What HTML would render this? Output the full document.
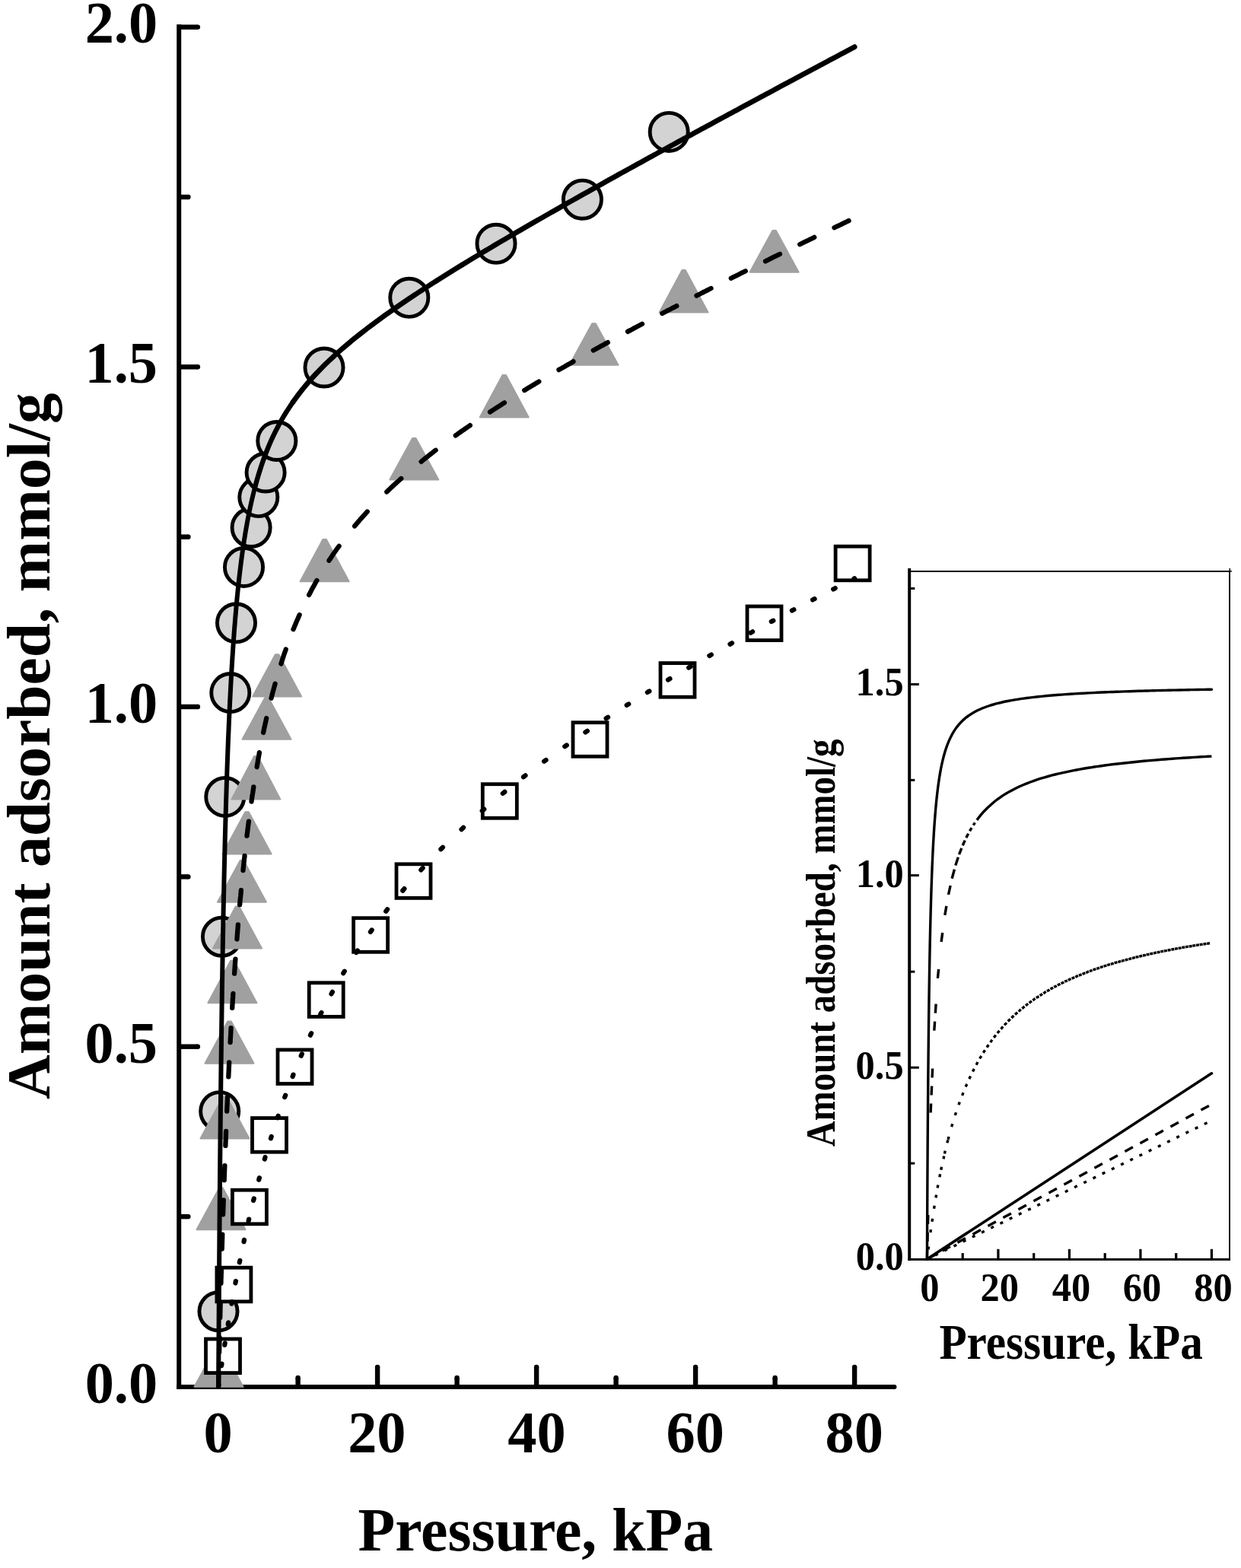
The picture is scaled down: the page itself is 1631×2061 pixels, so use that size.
<!DOCTYPE html>
<html><head><meta charset="utf-8"><title>Adsorption isotherms</title>
<style>html,body{margin:0;padding:0;background:#fff;}svg{display:block;}</style></head>
<body>
<svg width="1631" height="2061" viewBox="0 0 1631 2061">
<rect width="1631" height="2061" fill="#fff"/>
<g fill="#000">
<rect x="232.2" y="32.1" width="6" height="1793.8"/>
<rect x="232.2" y="1820.0" width="944" height="5.9" rx="0"/>
<circle cx="1175.5" cy="1822.95" r="2.95"/>
<rect x="236" y="1595.9" width="11.4" height="6.4"/><circle cx="247.4" cy="1599.1" r="3.2"/>
<rect x="236" y="1372.5" width="23.9" height="6.4"/><circle cx="259.9" cy="1375.7" r="3.2"/>
<rect x="236" y="1149.2" width="11.4" height="6.4"/><circle cx="247.4" cy="1152.4" r="3.2"/>
<rect x="236" y="925.8" width="23.9" height="6.4"/><circle cx="259.9" cy="929.0" r="3.2"/>
<rect x="236" y="702.5" width="11.4" height="6.4"/><circle cx="247.4" cy="705.7" r="3.2"/>
<rect x="236" y="479.1" width="23.9" height="6.4"/><circle cx="259.9" cy="482.3" r="3.2"/>
<rect x="236" y="255.8" width="11.4" height="6.4"/><circle cx="247.4" cy="259.0" r="3.2"/>
<rect x="236" y="32.4" width="23.9" height="6.4"/><circle cx="259.9" cy="35.6" r="3.2"/>
<rect x="388.4" y="1811.0" width="6.4" height="11.0"/><circle cx="391.6" cy="1811.0" r="3.2"/>
<rect x="492.9" y="1797.0" width="6.4" height="25.0"/><circle cx="496.1" cy="1797.0" r="3.2"/>
<rect x="597.4" y="1811.0" width="6.4" height="11.0"/><circle cx="600.6" cy="1811.0" r="3.2"/>
<rect x="701.9" y="1797.0" width="6.4" height="25.0"/><circle cx="705.1" cy="1797.0" r="3.2"/>
<rect x="806.4" y="1811.0" width="6.4" height="11.0"/><circle cx="809.6" cy="1811.0" r="3.2"/>
<rect x="910.9" y="1797.0" width="6.4" height="25.0"/><circle cx="914.1" cy="1797.0" r="3.2"/>
<rect x="1015.4" y="1811.0" width="6.4" height="11.0"/><circle cx="1018.6" cy="1811.0" r="3.2"/>
<rect x="1119.9" y="1797.0" width="6.4" height="25.0"/><circle cx="1123.1" cy="1797.0" r="3.2"/>
</g>
<g fill="#d3d3d3" stroke="#000" stroke-width="4.9">
<circle cx="287" cy="1723.7" r="25.05"/>
<circle cx="288.7" cy="1460.7" r="25.05"/>
<circle cx="291.5" cy="1231.2" r="25.05"/>
<circle cx="295.8" cy="1047.4" r="25.05"/>
<circle cx="302.8" cy="910.6" r="25.05"/>
<circle cx="310.5" cy="818.8" r="25.05"/>
<circle cx="320.5" cy="745.4" r="25.05"/>
<circle cx="330.1" cy="693.5" r="25.05"/>
<circle cx="339.8" cy="653.6" r="25.05"/>
<circle cx="349.1" cy="621" r="25.05"/>
<circle cx="363.8" cy="579.5" r="25.05"/>
<circle cx="426" cy="483" r="25.05"/>
<circle cx="537.8" cy="391.3" r="25.05"/>
<circle cx="652" cy="320.3" r="25.05"/>
<circle cx="765.4" cy="262.2" r="25.05"/>
<circle cx="879.2" cy="173.4" r="25.05"/>
</g>
<g fill="#a0a0a0" stroke="#a0a0a0" stroke-width="2.0" stroke-linejoin="round">
<polygon points="285.3,1768.0 289.7,1768.0 319.5,1822.8 255.5,1822.8"/>
<polygon points="288.3,1561.3 292.7,1561.3 322.5,1616.2 258.5,1616.2"/>
<polygon points="293.3,1441.6 297.7,1441.6 327.5,1496.6 263.5,1496.6"/>
<polygon points="299.3,1342.5 303.7,1342.5 333.5,1397.7 269.5,1397.7"/>
<polygon points="303.2,1262.8 307.6,1262.8 337.4,1318.2 273.4,1318.2"/>
<polygon points="309.8,1191.5 314.2,1191.5 344.0,1246.5 280.0,1246.5"/>
<polygon points="315.7,1131.0 320.1,1131.0 349.9,1185.7 285.9,1185.7"/>
<polygon points="322.4,1067.3 326.8,1067.3 356.6,1122.5 292.6,1122.5"/>
<polygon points="334.2,994.0 338.6,994.0 368.4,1050.6 304.4,1050.6"/>
<polygon points="348.3,917.0 352.7,917.0 382.5,971.7 318.5,971.7"/>
<polygon points="361.9,860.2 366.3,860.2 396.1,915.4 332.1,915.4"/>
<polygon points="424.4,709.0 428.8,709.0 458.6,764.2 394.6,764.2"/>
<polygon points="542.1,576.0 546.5,576.0 576.3,630.5 512.3,630.5"/>
<polygon points="660.5,493.0 664.9,493.0 694.7,548.5 630.7,548.5"/>
<polygon points="778.3,425.2 782.7,425.2 812.5,479.7 748.5,479.7"/>
<polygon points="896.4,355.1 900.8,355.1 930.6,410.6 866.6,410.6"/>
<polygon points="1015.4,303.0 1019.8,303.0 1049.6,357.7 985.6,357.7"/>
</g>
<g fill="#fff" stroke="#000" stroke-width="4.8">
<rect x="270.5" y="1760.0" width="45" height="44.6"/>
<rect x="284.9" y="1666.2" width="45" height="44.6"/>
<rect x="305.4" y="1564.2" width="45" height="44.6"/>
<rect x="331.5" y="1469.6" width="45" height="44.6"/>
<rect x="365.0" y="1379.9" width="45" height="44.6"/>
<rect x="406.2" y="1291.8" width="45" height="44.6"/>
<rect x="464.6" y="1206.7" width="45" height="44.6"/>
<rect x="521.0" y="1135.8" width="45" height="44.6"/>
<rect x="634.3" y="1030.7" width="45" height="44.6"/>
<rect x="753.0" y="949.7" width="45" height="44.6"/>
<rect x="868.0" y="871.6" width="45" height="44.6"/>
<rect x="982.0" y="797.0" width="45" height="44.6"/>
<rect x="1098.1" y="718.2" width="45" height="44.6"/>
</g>
<path d="M287.10,1822.60 C287.11,1821.27 287.13,1817.29 287.15,1814.63 C287.16,1811.98 287.18,1809.32 287.19,1806.67 C287.21,1804.01 287.22,1801.36 287.24,1798.70 C287.25,1796.04 287.27,1793.39 287.28,1790.73 C287.30,1788.08 287.31,1785.42 287.33,1782.77 C287.35,1780.11 287.36,1777.45 287.38,1774.80 C287.39,1772.14 287.41,1769.49 287.43,1766.83 C287.44,1764.18 287.46,1761.52 287.48,1758.87 C287.49,1756.21 287.51,1753.55 287.53,1750.90 C287.54,1748.24 287.56,1745.59 287.58,1742.93 C287.59,1740.28 287.61,1737.62 287.63,1734.96 C287.64,1732.31 287.66,1729.65 287.68,1727.00 C287.70,1724.34 287.71,1721.69 287.73,1719.03 C287.75,1716.38 287.77,1713.72 287.78,1711.06 C287.80,1708.41 287.82,1705.75 287.84,1703.10 C287.85,1700.44 287.87,1697.79 287.89,1695.13 C287.91,1692.48 287.93,1689.82 287.95,1687.16 C287.96,1684.51 287.98,1681.85 288.00,1679.20 C288.02,1676.54 288.04,1673.89 288.06,1671.23 C288.08,1668.58 288.10,1665.92 288.12,1663.26 C288.13,1660.61 288.15,1657.95 288.17,1655.30 C288.19,1652.64 288.21,1649.99 288.23,1647.33 C288.25,1644.67 288.27,1642.02 288.29,1639.36 C288.31,1636.71 288.33,1634.05 288.35,1631.40 C288.37,1628.74 288.39,1626.09 288.41,1623.43 C288.43,1620.77 288.45,1618.12 288.48,1615.46 C288.50,1612.81 288.52,1610.15 288.54,1607.50 C288.56,1604.84 288.58,1602.19 288.60,1599.53 C288.62,1596.87 288.65,1594.22 288.67,1591.56 C288.69,1588.91 288.71,1586.25 288.73,1583.60 C288.75,1580.94 288.78,1578.29 288.80,1575.63 C288.82,1572.97 288.84,1570.32 288.87,1567.66 C288.89,1565.01 288.91,1562.35 288.94,1559.70 C288.96,1557.04 288.98,1554.39 289.01,1551.73 C289.03,1549.07 289.05,1546.42 289.08,1543.76 C289.10,1541.11 289.12,1538.45 289.15,1535.80 C289.17,1533.14 289.20,1530.49 289.22,1527.83 C289.24,1525.17 289.27,1522.52 289.29,1519.86 C289.32,1517.21 289.34,1514.55 289.37,1511.90 C289.39,1509.24 289.42,1506.59 289.45,1503.93 C289.47,1501.27 289.50,1498.62 289.52,1495.96 C289.55,1493.31 289.57,1490.65 289.60,1488.00 C289.63,1485.34 289.65,1482.69 289.68,1480.03 C289.71,1477.37 289.73,1474.72 289.76,1472.06 C289.79,1469.41 289.82,1466.75 289.84,1464.10 C289.87,1461.44 289.90,1458.79 289.93,1456.13 C289.96,1453.48 289.98,1450.82 290.01,1448.16 C290.04,1445.51 290.07,1442.85 290.10,1440.20 C290.13,1437.54 290.16,1434.89 290.19,1432.23 C290.22,1429.58 290.25,1426.92 290.28,1424.26 C290.31,1421.61 290.34,1418.95 290.37,1416.30 C290.40,1413.64 290.43,1410.99 290.46,1408.33 C290.49,1405.68 290.52,1403.02 290.55,1400.37 C290.59,1397.71 290.62,1395.05 290.65,1392.40 C290.68,1389.74 290.71,1387.09 290.75,1384.43 C290.78,1381.78 290.81,1379.12 290.85,1376.47 C290.88,1373.81 290.91,1371.16 290.95,1368.50 C290.98,1365.84 291.02,1363.19 291.05,1360.53 C291.08,1357.88 291.12,1355.22 291.15,1352.57 C291.19,1349.91 291.22,1347.26 291.26,1344.60 C291.30,1341.95 291.33,1339.29 291.37,1336.63 C291.41,1333.98 291.44,1331.32 291.48,1328.67 C291.52,1326.01 291.55,1323.36 291.59,1320.70 C291.63,1318.05 291.67,1315.39 291.71,1312.74 C291.74,1310.08 291.78,1307.43 291.82,1304.77 C291.86,1302.11 291.90,1299.46 291.94,1296.80 C291.98,1294.15 292.02,1291.49 292.06,1288.84 C292.10,1286.18 292.14,1283.53 292.19,1280.87 C292.23,1278.22 292.27,1275.56 292.31,1272.91 C292.35,1270.25 292.40,1267.60 292.44,1264.94 C292.48,1262.28 292.53,1259.63 292.57,1256.97 C292.62,1254.32 292.66,1251.66 292.71,1249.01 C292.75,1246.35 292.80,1243.70 292.84,1241.04 C292.89,1238.39 292.93,1235.73 292.98,1233.08 C293.03,1230.42 293.08,1227.77 293.12,1225.11 C293.17,1222.46 293.22,1219.80 293.27,1217.15 C293.32,1214.49 293.37,1211.84 293.42,1209.18 C293.47,1206.52 293.52,1203.87 293.57,1201.21 C293.62,1198.56 293.67,1195.90 293.72,1193.25 C293.78,1190.59 293.83,1187.94 293.88,1185.28 C293.94,1182.63 293.99,1179.97 294.04,1177.32 C294.10,1174.66 294.15,1172.01 294.21,1169.35 C294.27,1166.70 294.32,1164.04 294.38,1161.39 C294.44,1158.73 294.49,1156.08 294.55,1153.42 C294.61,1150.77 294.67,1148.11 294.73,1145.46 C294.79,1142.80 294.85,1140.15 294.91,1137.49 C294.97,1134.84 295.03,1132.18 295.10,1129.53 C295.16,1126.87 295.22,1124.22 295.29,1121.56 C295.35,1118.91 295.42,1116.25 295.48,1113.60 C295.55,1110.94 295.62,1108.29 295.68,1105.63 C295.75,1102.98 295.82,1100.32 295.89,1097.67 C295.96,1095.02 296.03,1092.36 296.10,1089.71 C296.17,1087.05 296.24,1084.40 296.31,1081.74 C296.39,1079.09 296.46,1076.43 296.53,1073.78 C296.61,1071.12 296.68,1068.47 296.76,1065.81 C296.84,1063.16 296.91,1060.51 296.99,1057.85 C297.07,1055.20 297.15,1052.54 297.23,1049.89 C297.31,1047.23 297.40,1044.58 297.48,1041.92 C297.56,1039.27 297.65,1036.62 297.73,1033.96 C297.82,1031.31 297.90,1028.65 297.99,1026.00 C298.08,1023.34 298.17,1020.69 298.26,1018.04 C298.35,1015.38 298.44,1012.73 298.53,1010.07 C298.63,1007.42 298.72,1004.77 298.81,1002.11 C298.91,999.46 299.01,996.80 299.11,994.15 C299.20,991.50 299.30,988.84 299.41,986.19 C299.51,983.54 299.61,980.88 299.71,978.23 C299.82,975.57 299.93,972.92 300.03,970.27 C300.14,967.61 300.25,964.96 300.36,962.31 C300.47,959.65 300.59,957.00 300.70,954.35 C300.82,951.69 300.93,949.04 301.05,946.39 C301.17,943.73 301.29,941.08 301.41,938.43 C301.53,935.78 301.66,933.12 301.78,930.47 C301.91,927.82 302.04,925.17 302.17,922.51 C302.30,919.86 302.43,917.21 302.57,914.56 C302.71,911.90 302.84,909.25 302.98,906.60 C303.12,903.95 303.27,901.30 303.41,898.64 C303.56,895.99 303.70,893.34 303.85,890.69 C304.00,888.04 304.16,885.39 304.31,882.74 C304.47,880.09 304.63,877.43 304.79,874.78 C304.95,872.13 305.12,869.48 305.28,866.83 C305.45,864.18 305.62,861.53 305.80,858.88 C305.97,856.23 306.15,853.58 306.33,850.93 C306.51,848.28 306.70,845.63 306.89,842.98 C307.07,840.34 307.27,837.69 307.46,835.04 C307.66,832.39 307.86,829.74 308.06,827.09 C308.27,824.45 308.48,821.80 308.69,819.15 C308.90,816.51 309.12,813.86 309.34,811.21 C309.56,808.57 309.79,805.92 310.02,803.27 C310.25,800.63 310.49,797.98 310.73,795.34 C310.98,792.69 311.22,790.05 311.48,787.41 C311.73,784.76 311.99,782.12 312.25,779.48 C312.52,776.84 312.79,774.19 313.07,771.55 C313.35,768.91 313.63,766.27 313.92,763.63 C314.21,760.99 314.51,758.35 314.81,755.71 C315.12,753.08 315.43,750.44 315.75,747.80 C316.07,745.17 316.40,742.53 316.74,739.90 C317.07,737.26 317.42,734.63 317.77,732.00 C318.12,729.37 318.49,726.73 318.86,724.11 C319.23,721.48 319.61,718.85 320.01,716.22 C320.40,713.60 320.80,710.97 321.22,708.35 C321.63,705.72 322.05,703.10 322.49,700.48 C322.93,697.86 323.37,695.25 323.84,692.63 C324.30,690.01 324.77,687.40 325.26,684.79 C325.74,682.18 326.24,679.57 326.76,676.97 C327.28,674.36 327.81,671.76 328.35,669.16 C328.90,666.56 329.46,663.97 330.04,661.37 C330.61,658.78 331.21,656.19 331.82,653.61 C332.43,651.03 333.06,648.45 333.71,645.87 C334.36,643.30 335.39,639.45 335.72,638.16" fill="none" stroke="#000" stroke-width="6.0" stroke-linecap="round" stroke-linejoin="round"/>
<path d="M335.72,638.16 C336.06,636.95 337.05,633.30 337.74,630.88 C338.43,628.45 339.14,626.03 339.87,623.62 C340.60,621.21 341.35,618.81 342.13,616.41 C342.90,614.01 343.70,611.62 344.51,609.23 C345.33,606.85 346.17,604.47 347.04,602.11 C347.90,599.74 348.79,597.38 349.70,595.03 C350.62,592.69 351.55,590.35 352.52,588.02 C353.48,585.69 354.47,583.37 355.48,581.06 C356.50,578.76 357.54,576.46 358.61,574.18 C359.68,571.90 360.77,569.63 361.89,567.37 C363.02,565.12 364.17,562.87 365.34,560.65 C366.52,558.42 367.73,556.20 368.96,554.01 C370.19,551.81 371.45,549.63 372.74,547.46 C374.03,545.29 375.34,543.14 376.68,541.01 C378.02,538.88 379.39,536.76 380.79,534.66 C382.18,532.56 384.34,529.46 385.05,528.42" fill="none" stroke="#000" stroke-width="6.4" stroke-linecap="round" stroke-linejoin="round"/>
<path d="M385.05,528.42 C385.82,527.34 388.13,524.08 389.71,521.94 C391.29,519.80 392.90,517.68 394.54,515.58 C396.17,513.48 397.84,511.40 399.52,509.34 C401.21,507.28 402.92,505.25 404.65,503.23 C406.39,501.21 408.14,499.21 409.92,497.23 C411.70,495.25 413.50,493.29 415.32,491.34 C417.14,489.40 418.98,487.48 420.83,485.57 C422.69,483.67 424.57,481.78 426.46,479.91 C428.36,478.04 430.27,476.19 432.19,474.36 C434.12,472.52 436.06,470.70 438.02,468.90 C439.98,467.09 441.95,465.31 443.93,463.53 C445.92,461.76 447.92,460.00 449.93,458.26 C451.94,456.52 453.96,454.79 456.00,453.07 C458.03,451.36 460.08,449.65 462.13,447.96 C464.19,446.27 466.25,444.60 468.33,442.93 C470.40,441.26 472.49,439.61 474.58,437.97 C476.68,436.33 478.78,434.69 480.89,433.07 C483.00,431.45 485.12,429.84 487.24,428.24 C489.37,426.64 491.50,425.05 493.64,423.47 C495.78,421.88 497.93,420.31 500.08,418.75 C502.23,417.18 504.39,415.63 506.56,414.08 C508.72,412.53 510.89,410.99 513.07,409.46 C515.24,407.93 517.42,406.40 519.61,404.88 C521.80,403.37 523.99,401.85 526.18,400.35 C528.38,398.85 530.58,397.35 532.78,395.86 C534.99,394.37 537.19,392.88 539.41,391.40 C541.62,389.92 543.84,388.45 546.06,386.98 C548.28,385.52 550.50,384.05 552.73,382.60 C554.95,381.14 557.18,379.69 559.42,378.24 C561.65,376.79 563.89,375.35 566.13,373.91 C568.36,372.48 570.61,371.04 572.85,369.61 C575.10,368.18 577.35,366.76 579.60,365.34 C581.85,363.92 584.10,362.50 586.35,361.09 C588.61,359.68 590.87,358.27 593.13,356.87 C595.39,355.46 597.65,354.06 599.91,352.66 C602.18,351.26 604.45,349.87 606.71,348.48 C608.98,347.09 611.25,345.70 613.53,344.31 C615.80,342.93 618.07,341.55 620.35,340.17 C622.62,338.79 624.90,337.41 627.18,336.04 C629.46,334.66 631.74,333.29 634.02,331.93 C636.31,330.56 638.59,329.19 640.88,327.83 C643.16,326.47 645.45,325.11 647.74,323.75 C650.03,322.39 652.32,321.03 654.61,319.68 C656.90,318.33 659.19,316.98 661.49,315.63 C663.78,314.28 666.07,312.93 668.37,311.59 C670.67,310.24 672.96,308.90 675.26,307.56 C677.56,306.22 679.86,304.88 682.16,303.54 C684.46,302.20 686.76,300.87 689.07,299.53 C691.37,298.20 693.67,296.87 695.98,295.54 C698.28,294.21 700.59,292.88 702.90,291.55 C705.20,290.22 707.51,288.90 709.82,287.58 C712.13,286.25 714.44,284.93 716.75,283.61 C719.06,282.29 721.37,280.97 723.68,279.65 C725.99,278.33 728.31,277.02 730.62,275.70 C732.93,274.39 735.25,273.07 737.56,271.76 C739.88,270.45 742.19,269.13 744.51,267.82 C746.82,266.51 749.14,265.21 751.46,263.90 C753.78,262.59 756.10,261.28 758.41,259.98 C760.73,258.67 763.05,257.37 765.37,256.06 C767.69,254.76 770.01,253.46 772.34,252.16 C774.66,250.86 776.98,249.56 779.30,248.26 C781.62,246.96 783.95,245.66 786.27,244.36 C788.59,243.07 790.92,241.77 793.24,240.48 C795.57,239.18 797.89,237.89 800.22,236.59 C802.54,235.30 804.87,234.01 807.20,232.71 C809.52,231.42 811.85,230.13 814.18,228.84 C816.51,227.55 818.83,226.26 821.16,224.97 C823.49,223.69 825.82,222.40 828.15,221.11 C830.48,219.82 832.81,218.54 835.14,217.25 C837.47,215.97 839.80,214.68 842.13,213.40 C844.46,212.12 846.79,210.83 849.12,209.55 C851.46,208.27 853.79,206.99 856.12,205.70 C858.45,204.42 860.79,203.14 863.12,201.86 C865.45,200.58 867.79,199.30 870.12,198.03 C872.45,196.75 874.79,195.47 877.12,194.19 C879.46,192.91 881.79,191.64 884.13,190.36 C886.46,189.08 888.80,187.81 891.13,186.53 C893.47,185.26 895.81,183.98 898.14,182.71 C900.48,181.44 902.82,180.16 905.15,178.89 C907.49,177.62 909.83,176.34 912.16,175.07 C914.50,173.80 916.84,172.53 919.18,171.26 C921.52,169.99 923.85,168.72 926.19,167.45 C928.53,166.18 930.87,164.91 933.21,163.64 C935.55,162.37 937.89,161.10 940.23,159.83 C942.57,158.57 944.91,157.30 947.25,156.03 C949.59,154.76 951.93,153.50 954.27,152.23 C956.61,150.96 958.95,149.70 961.29,148.43 C963.63,147.17 965.97,145.90 968.31,144.64 C970.66,143.37 973.00,142.11 975.34,140.84 C977.68,139.58 980.02,138.32 982.37,137.05 C984.71,135.79 987.05,134.53 989.39,133.26 C991.74,132.00 994.08,130.74 996.42,129.48 C998.76,128.22 1001.11,126.95 1003.45,125.69 C1005.79,124.43 1008.14,123.17 1010.48,121.91 C1012.83,120.65 1015.17,119.39 1017.51,118.13 C1019.86,116.87 1022.20,115.61 1024.55,114.35 C1026.89,113.09 1029.23,111.83 1031.58,110.58 C1033.92,109.32 1036.27,108.06 1038.61,106.80 C1040.96,105.54 1043.30,104.29 1045.65,103.03 C1048.00,101.77 1050.34,100.51 1052.69,99.26 C1055.03,98.00 1057.38,96.74 1059.72,95.49 C1062.07,94.23 1064.42,92.98 1066.76,91.72 C1069.11,90.46 1071.46,89.21 1073.80,87.95 C1076.15,86.70 1078.50,85.44 1080.84,84.19 C1083.19,82.93 1085.54,81.68 1087.88,80.43 C1090.23,79.17 1092.58,77.92 1094.93,76.66 C1097.27,75.41 1099.62,74.16 1101.97,72.90 C1104.32,71.65 1106.66,70.40 1109.01,69.15 C1111.36,67.89 1113.71,66.64 1116.06,65.39 C1118.40,64.14 1121.93,62.26 1123.10,61.63" fill="none" stroke="#000" stroke-width="6.8" stroke-linecap="round" stroke-linejoin="round"/>
<path d="M287.1,1822.6 L287.2,1820.2 L287.2,1817.8 L287.3,1815.4 L287.3,1813.1 L287.4,1810.7 L287.4,1808.4 L287.5,1806.0 L287.5,1803.7 L287.5,1803.6 M288.1,1777.4 L288.2,1775.0 L288.2,1772.8 L288.3,1770.6 L288.3,1768.4 L288.4,1766.2 L288.4,1764.0 L288.5,1761.9 L288.5,1759.7 L288.6,1758.4 M289.2,1732.1 L289.3,1729.8 L289.3,1727.7 L289.4,1725.7 L289.4,1723.6 L289.5,1721.6 L289.5,1719.6 L289.6,1717.6 L289.6,1715.6 L289.7,1713.6 L289.7,1713.1 M290.4,1686.9 L290.5,1684.8 L290.5,1682.5 L290.6,1680.2 L290.7,1678.0 L290.7,1675.7 L290.8,1673.5 L290.9,1671.3 L290.9,1669.1 L290.9,1667.9 M291.7,1641.6 L291.8,1639.3 L291.8,1637.3 L291.9,1635.2 L292.0,1633.1 L292.0,1631.0 L292.1,1629.0 L292.2,1626.9 L292.2,1624.9 L292.3,1622.9 L292.3,1622.6 M293.1,1596.4 L293.2,1594.3 L293.3,1592.1 L293.3,1589.9 L293.4,1587.6 L293.5,1585.4 L293.6,1583.2 L293.6,1581.1 L293.7,1578.9 L293.8,1577.4 M294.7,1551.2 L294.7,1549.1 L294.8,1547.1 L294.9,1545.1 L295.0,1543.1 L295.0,1541.0 L295.1,1539.0 L295.2,1536.8 L295.3,1534.5 L295.4,1532.2 L295.4,1532.2 M296.4,1505.9 L296.4,1503.8 L296.5,1501.7 L296.6,1499.6 L296.7,1497.5 L296.8,1495.4 L296.9,1493.4 L296.9,1491.3 L297.0,1489.2 L297.1,1487.2 L297.1,1486.9 M298.2,1460.7 L298.3,1458.5 L298.4,1456.3 L298.5,1454.2 L298.6,1452.1 L298.7,1449.9 L298.8,1447.8 L298.9,1445.7 L299.0,1443.6 L299.1,1441.7 M300.3,1415.4 L300.4,1413.2 L300.5,1411.1 L300.6,1408.9 L300.7,1406.8 L300.8,1404.7 L300.9,1402.6 L301.0,1400.5 L301.1,1398.4 L301.2,1396.4 M302.6,1370.2 L302.7,1368.1 L302.8,1366.0 L302.9,1363.9 L303.1,1361.8 L303.2,1359.7 L303.3,1357.6 L303.4,1355.5 L303.5,1353.5 L303.6,1351.4 L303.6,1351.2 M305.2,1324.9 L305.3,1322.9 L305.4,1320.8 L305.6,1318.7 L305.7,1316.7 L305.8,1314.7 L305.9,1312.7 L306.1,1310.7 L306.2,1308.5 L306.3,1306.4 L306.4,1305.9 M308.1,1279.7 L308.4,1275.0 L308.6,1272.0 L308.8,1269.1 L309.0,1266.2 L309.2,1263.4 L309.4,1260.7 M311.4,1234.4 L311.7,1230.7 L311.9,1228.2 L312.1,1225.6 L312.3,1223.1 L312.5,1220.5 L312.7,1218.0 L312.9,1215.5 L312.9,1215.4 M315.1,1189.2 L315.3,1187.1 L315.5,1184.8 L315.7,1182.6 L315.9,1180.3 L316.2,1178.1 L316.4,1175.9 L316.6,1173.7 L316.8,1171.6 L316.9,1170.2 M319.5,1144.0 L319.8,1140.8 L320.2,1136.9 L320.6,1133.1 L321.0,1129.3 L321.5,1125.6 L321.5,1125.0 M324.5,1098.7 L324.9,1095.7 L325.3,1092.4 L325.7,1089.1 L326.1,1085.8 L326.5,1082.6 L326.9,1079.7 M330.5,1053.5 L330.8,1051.1 L331.2,1048.3 L331.6,1045.5 L332.1,1042.8 L332.5,1040.1 L332.9,1037.4 L333.3,1034.7 L333.3,1034.5 M337.6,1008.2 L338.0,1005.9 L338.4,1003.6 L338.8,1001.2 L339.2,998.9 L339.6,996.6 L340.0,994.4 L340.4,992.1 L340.8,989.9 L340.9,989.2 M346.1,963.0 L346.5,960.9 L347.1,958.0 L347.7,955.1 L348.4,952.3 L349.0,949.5 L349.6,946.7 L350.2,944.0 M356.5,917.7 L357.1,915.2 L357.7,912.9 L358.3,910.6 L359.0,908.2 L359.6,906.0 L360.2,903.7 L360.8,901.5 L361.4,899.3 L361.6,898.7 M369.4,872.5 L370.2,870.0 L371.0,867.5 L371.8,865.0 L372.6,862.5 L373.4,860.1 L374.2,857.7 L375.1,855.3 L375.7,853.5 M385.5,827.2 L386.5,824.9 L387.3,822.9 L388.1,821.0 L388.9,819.0 L389.7,817.1 L390.5,815.2 L391.4,813.3 L392.2,811.4 L393.0,809.5 L393.6,808.2 M406.1,782.0 L407.1,780.1 L408.1,778.2 L409.1,776.2 L410.1,774.3 L411.1,772.4 L412.2,770.6 L413.2,768.7 L414.2,766.9 L415.2,765.0 L416.2,763.2 L416.4,763.0 M432.4,736.8 L433.6,735.0 L434.8,733.2 L436.0,731.4 L437.2,729.6 L438.4,727.8 L439.7,726.0 L440.9,724.3 L442.1,722.5 L443.3,720.8 L444.6,719.1 L445.6,717.8 M466.1,691.5 L467.4,689.9 L468.8,688.2 L470.2,686.6 L471.7,684.9 L473.1,683.3 L474.5,681.6 L476.0,680.0 L477.4,678.4 L478.8,676.8 L480.2,675.3 L481.7,673.7 L482.7,672.5 M508.3,646.5 L509.8,645.1 L511.4,643.5 L513.0,642.0 L514.7,640.4 L516.3,638.9 L517.9,637.4 L519.6,635.9 L521.2,634.4 L522.8,633.0 L524.5,631.5 L526.1,630.0 L527.3,629.0 M553.6,606.8 L555.2,605.4 L556.9,604.1 L558.5,602.8 L560.1,601.5 L561.8,600.2 L563.4,598.9 L565.0,597.6 L566.7,596.4 L568.3,595.1 L569.9,593.8 L571.5,592.6 L572.6,591.8 M598.8,572.4 L600.5,571.2 L602.1,570.0 L604.0,568.7 L605.8,567.4 L607.6,566.1 L609.5,564.9 L611.3,563.6 L613.1,562.3 L615.0,561.0 L616.8,559.8 L617.8,559.1 M644.0,541.5 L645.7,540.4 L647.6,539.2 L649.4,538.0 L651.2,536.8 L653.1,535.6 L654.9,534.5 L656.7,533.3 L658.6,532.1 L660.4,530.9 L662.2,529.8 L663.0,529.3 M689.3,513.0 L691.2,511.8 L693.0,510.7 L694.9,509.6 L696.7,508.5 L698.5,507.4 L700.4,506.3 L702.2,505.2 L704.0,504.1 L705.9,503.0 L707.7,501.9 L708.3,501.5 M734.5,486.1 L736.4,485.0 L738.3,484.0 L740.1,482.9 L741.9,481.9 L743.8,480.8 L745.6,479.8 L747.4,478.7 L749.3,477.7 L751.1,476.6 L753.0,475.6 L753.5,475.2 M779.8,460.5 L781.7,459.5 L783.5,458.5 L785.4,457.4 L787.2,456.4 L789.0,455.4 L790.9,454.4 L792.7,453.4 L794.5,452.4 L796.4,451.4 L798.2,450.4 L798.8,450.1 M825.0,435.9 L826.9,434.9 L828.8,433.9 L830.6,432.9 L832.4,431.9 L834.3,430.9 L836.1,430.0 L837.9,429.0 L839.8,428.0 L841.6,427.0 L843.5,426.1 L844.0,425.8 M870.3,412.0 L872.2,411.0 L874.0,410.0 L875.9,409.1 L877.7,408.1 L879.5,407.2 L881.4,406.2 L883.2,405.3 L885.0,404.3 L886.9,403.4 L888.7,402.4 L889.3,402.1 M915.5,388.6 L917.4,387.7 L919.3,386.7 L921.1,385.8 L922.9,384.9 L924.8,383.9 L926.6,383.0 L928.4,382.1 L930.3,381.1 L932.1,380.2 L933.9,379.3 L934.5,379.0 M960.8,365.8 L962.7,364.8 L964.5,363.9 L966.4,363.0 L968.2,362.1 L970.0,361.2 L971.9,360.2 L973.7,359.3 L975.5,358.4 L977.4,357.5 L979.2,356.6 L979.8,356.3 M1006.0,343.3 L1007.9,342.4 L1009.8,341.5 L1011.6,340.5 L1013.4,339.6 L1015.3,338.7 L1017.1,337.8 L1018.9,336.9 L1020.8,336.0 L1022.6,335.1 L1024.4,334.2 L1025.0,334.0 M1051.2,321.2 L1053.2,320.2 L1055.0,319.3 L1056.9,318.4 L1058.7,317.5 L1060.5,316.6 L1062.4,315.8 L1064.2,314.9 L1066.0,314.0 L1067.9,313.1 L1069.7,312.2 L1070.2,311.9 M1096.5,299.3 L1098.4,298.3 L1100.3,297.4 L1102.1,296.6 L1103.9,295.7 L1105.8,294.8 L1107.6,293.9 L1109.4,293.0 L1111.3,292.2 L1113.1,291.3 L1114.9,290.4 L1115.5,290.1" fill="none" stroke="#000" stroke-width="6.3" stroke-linecap="round" stroke-linejoin="round"/>
<path d="M287.2,1822.2 L287.4,1820.2 L287.5,1819.7 M291.1,1795.1 L291.4,1793.1 L291.5,1792.6 M295.3,1767.9 L295.6,1765.9 L295.7,1765.4 M299.7,1740.8 L300.0,1738.8 L300.1,1738.3 M304.4,1713.6 L304.8,1711.6 L304.8,1711.1 M309.4,1686.5 L309.8,1684.2 L309.9,1684.0 M314.8,1659.3 L315.3,1656.8 M320.5,1632.2 L321.0,1629.7 M326.6,1605.0 L327.2,1602.6 L327.2,1602.5 M333.1,1577.9 L333.7,1575.7 L333.8,1575.4 M340.2,1550.7 L340.8,1548.4 L340.9,1548.2 M347.8,1523.6 L348.4,1521.5 L348.5,1521.1 M355.9,1496.4 L356.7,1493.9 M364.7,1469.3 L365.5,1467.0 L365.6,1466.8 M374.2,1442.1 L375.1,1439.9 L375.2,1439.6 M384.6,1415.0 L385.5,1412.7 L385.5,1412.5 M395.7,1387.8 L396.7,1385.7 L396.8,1385.3 M407.9,1360.7 L408.9,1358.5 L409.1,1358.2 M421.1,1333.5 L422.1,1331.5 L422.4,1331.0 M435.5,1306.4 L436.6,1304.3 L436.9,1303.9 M451.2,1279.2 L452.3,1277.3 L452.7,1276.7 M468.2,1252.1 L469.4,1250.3 L469.9,1249.6 M486.9,1224.9 L488.2,1223.1 L488.7,1222.4 M507.2,1197.8 L508.6,1196.0 L509.1,1195.3 M529.3,1170.6 L530.6,1169.1 L531.4,1168.1 M553.3,1143.5 L554.8,1141.8 L555.6,1141.0 M579.4,1116.3 L580.9,1114.8 L581.9,1113.8 M606.5,1090.2 L608.0,1088.8 L609.0,1087.8 M633.7,1065.8 L635.3,1064.4 L636.2,1063.6 M660.8,1042.9 L662.5,1041.6 L663.3,1040.9 M688.0,1021.3 L689.6,1020.1 L690.5,1019.4 M715.1,1000.8 L716.9,999.5 L717.6,999.0 M742.3,981.2 L744.0,980.0 L744.8,979.5 M769.4,962.5 L771.1,961.3 L771.9,960.8 M796.6,944.4 L798.4,943.2 L799.1,942.8 M823.7,926.9 L825.5,925.8 L826.2,925.4 M850.9,910.0 L852.6,908.9 L853.4,908.5 M878.0,893.6 L879.9,892.4 L880.5,892.1 M905.2,877.6 L907.0,876.5 L907.7,876.1 M932.3,861.9 L934.2,860.9 L934.8,860.5 M959.5,846.7 L961.3,845.7 L962.0,845.3 M986.6,831.7 L988.6,830.6 L989.1,830.3 M1013.8,817.0 L1015.7,816.0 L1016.3,815.7 M1040.9,802.6 L1042.8,801.6 L1043.4,801.3 M1068.1,788.4 L1069.9,787.4 L1070.6,787.1 M1095.2,774.4 L1097.2,773.4 L1097.7,773.1 M1122.4,760.6 L1123.1,760.2" fill="none" stroke="#000" stroke-width="6.2" stroke-linecap="round" stroke-linejoin="round"/>
<text font-family="'Liberation Serif', serif" font-weight="bold" font-size="78.30" transform="translate(111.67,55.70) scale(0.9750,1)">2.0</text>
<text font-family="'Liberation Serif', serif" font-weight="bold" font-size="78.30" transform="translate(111.60,502.90) scale(0.9750,1)">1.5</text>
<text font-family="'Liberation Serif', serif" font-weight="bold" font-size="78.30" transform="translate(111.67,949.60) scale(0.9750,1)">1.0</text>
<text font-family="'Liberation Serif', serif" font-weight="bold" font-size="78.30" transform="translate(111.60,1396.60) scale(0.9750,1)">0.5</text>
<text font-family="'Liberation Serif', serif" font-weight="bold" font-size="78.30" transform="translate(111.67,1843.50) scale(0.9750,1)">0.0</text>
<text font-family="'Liberation Serif', serif" font-weight="bold" font-size="78.30" transform="translate(267.41,1909.12) scale(0.9750,1)">0</text>
<text font-family="'Liberation Serif', serif" font-weight="bold" font-size="78.30" transform="translate(457.18,1909.12) scale(0.9750,1)">20</text>
<text font-family="'Liberation Serif', serif" font-weight="bold" font-size="78.30" transform="translate(667.24,1909.12) scale(0.9750,1)">40</text>
<text font-family="'Liberation Serif', serif" font-weight="bold" font-size="78.30" transform="translate(875.48,1909.12) scale(0.9750,1)">60</text>
<text font-family="'Liberation Serif', serif" font-weight="bold" font-size="78.30" transform="translate(1084.52,1909.12) scale(0.9750,1)">80</text>
<text font-family="'Liberation Serif', serif" font-weight="bold" font-size="79.50" transform="translate(470.44,2037.70) scale(1.0033,1)">Pressure, kPa</text>
<text font-family="'Liberation Serif', serif" font-weight="bold" font-size="80.50" transform="translate(65.00,1445.01) rotate(-90) scale(1.0105,1)">Amount adsorbed, mmol/g</text>
<g fill="#000">
<rect x="1193.2" y="747" width="4" height="910"/>
<rect x="1193.2" y="1653.9" width="423.6" height="3"/>
<rect x="1195" y="750" width="421.8" height="2"/>
<rect x="1615.1" y="750" width="1.8" height="907"/>
<rect x="1615.6" y="747" width="1.4" height="4"/><rect x="1616" y="750.2" width="3" height="1.4"/>
<rect x="1196" y="1527.6" width="6.3" height="3"/>
<rect x="1196" y="1401.7" width="11.8" height="3"/>
<rect x="1196" y="1275.7" width="6.3" height="3"/>
<rect x="1196" y="1149.1" width="11.8" height="3"/>
<rect x="1196" y="1023.9" width="6.3" height="3"/>
<rect x="1196" y="898.0" width="11.8" height="3"/>
<rect x="1196" y="772.0" width="6.3" height="3"/>
<rect x="1263.6" y="1647.1" width="3.2" height="7.9"/>
<rect x="1310.3" y="1641.8" width="3.2" height="13.2"/>
<rect x="1357.1" y="1647.1" width="3.2" height="7.9"/>
<rect x="1403.8" y="1641.8" width="3.2" height="13.2"/>
<rect x="1450.6" y="1647.1" width="3.2" height="7.9"/>
<rect x="1497.3" y="1641.8" width="3.2" height="13.2"/>
<rect x="1544.1" y="1647.1" width="3.2" height="7.9"/>
<rect x="1590.8" y="1641.8" width="3.2" height="13.2"/>
</g>
<text font-family="'Liberation Serif', serif" font-weight="bold" font-size="52.00" transform="translate(1124.62,914.37) scale(0.9700,1)">1.5</text>
<text font-family="'Liberation Serif', serif" font-weight="bold" font-size="52.00" transform="translate(1124.67,1165.87) scale(0.9700,1)">1.0</text>
<text font-family="'Liberation Serif', serif" font-weight="bold" font-size="52.00" transform="translate(1124.62,1418.07) scale(0.9700,1)">0.5</text>
<text font-family="'Liberation Serif', serif" font-weight="bold" font-size="52.00" transform="translate(1124.67,1669.47) scale(0.9700,1)">0.0</text>
<text font-family="'Liberation Serif', serif" font-weight="bold" font-size="52.00" transform="translate(1209.29,1709.58) scale(0.9700,1)">0</text>
<text font-family="'Liberation Serif', serif" font-weight="bold" font-size="52.00" transform="translate(1288.58,1709.58) scale(0.9700,1)">20</text>
<text font-family="'Liberation Serif', serif" font-weight="bold" font-size="52.00" transform="translate(1382.79,1709.58) scale(0.9700,1)">40</text>
<text font-family="'Liberation Serif', serif" font-weight="bold" font-size="52.00" transform="translate(1475.78,1709.58) scale(0.9700,1)">60</text>
<text font-family="'Liberation Serif', serif" font-weight="bold" font-size="52.00" transform="translate(1569.31,1709.58) scale(0.9700,1)">80</text>
<text font-family="'Liberation Serif', serif" font-weight="bold" font-size="66.50" transform="translate(1234.39,1785.62) scale(0.8906,1)">Pressure, kPa</text>
<text font-family="'Liberation Serif', serif" font-weight="bold" font-size="54.00" transform="translate(1096.80,1507.17) rotate(-90) scale(0.8691,1)">Amount adsorbed, mmol/g</text>
<path d="M1218.40,1655.00 C1218.40,1654.00 1218.42,1651.00 1218.43,1649.00 C1218.43,1647.00 1218.44,1645.00 1218.45,1643.00 C1218.46,1641.00 1218.47,1639.00 1218.48,1637.00 C1218.48,1635.00 1218.49,1633.00 1218.50,1631.00 C1218.51,1629.00 1218.52,1627.00 1218.53,1625.00 C1218.54,1623.00 1218.55,1621.00 1218.56,1619.00 C1218.57,1617.00 1218.57,1615.00 1218.58,1613.00 C1218.59,1611.00 1218.60,1609.00 1218.61,1607.00 C1218.62,1605.00 1218.63,1603.00 1218.64,1601.00 C1218.65,1599.00 1218.66,1597.00 1218.67,1595.00 C1218.68,1593.00 1218.69,1591.00 1218.70,1589.00 C1218.71,1587.00 1218.72,1585.00 1218.73,1583.00 C1218.74,1581.00 1218.75,1579.00 1218.76,1577.00 C1218.77,1575.01 1218.78,1573.01 1218.79,1571.01 C1218.80,1569.01 1218.81,1567.01 1218.82,1565.01 C1218.83,1563.01 1218.84,1561.01 1218.85,1559.01 C1218.86,1557.01 1218.88,1555.01 1218.89,1553.01 C1218.90,1551.01 1218.91,1549.01 1218.92,1547.01 C1218.93,1545.01 1218.94,1543.01 1218.95,1541.01 C1218.97,1539.01 1218.98,1537.01 1218.99,1535.01 C1219.00,1533.01 1219.01,1531.01 1219.02,1529.01 C1219.04,1527.01 1219.05,1525.01 1219.06,1523.01 C1219.07,1521.01 1219.08,1519.01 1219.10,1517.01 C1219.11,1515.01 1219.12,1513.01 1219.13,1511.01 C1219.15,1509.01 1219.16,1507.01 1219.17,1505.01 C1219.19,1503.01 1219.20,1501.01 1219.21,1499.01 C1219.22,1497.01 1219.24,1495.01 1219.25,1493.01 C1219.26,1491.01 1219.28,1489.01 1219.29,1487.01 C1219.31,1485.01 1219.32,1483.01 1219.33,1481.01 C1219.35,1479.01 1219.36,1477.01 1219.38,1475.01 C1219.39,1473.01 1219.40,1471.01 1219.42,1469.01 C1219.43,1467.01 1219.45,1465.01 1219.46,1463.01 C1219.48,1461.01 1219.49,1459.01 1219.51,1457.01 C1219.52,1455.01 1219.54,1453.01 1219.55,1451.01 C1219.57,1449.01 1219.58,1447.01 1219.60,1445.01 C1219.62,1443.01 1219.63,1441.01 1219.65,1439.02 C1219.67,1437.02 1219.68,1435.02 1219.70,1433.02 C1219.71,1431.02 1219.73,1429.02 1219.75,1427.02 C1219.77,1425.02 1219.78,1423.02 1219.80,1421.02 C1219.82,1419.02 1219.83,1417.02 1219.85,1415.02 C1219.87,1413.02 1219.89,1411.02 1219.91,1409.02 C1219.92,1407.02 1219.94,1405.02 1219.96,1403.02 C1219.98,1401.02 1220.00,1399.02 1220.02,1397.02 C1220.04,1395.02 1220.06,1393.02 1220.08,1391.02 C1220.09,1389.02 1220.11,1387.02 1220.13,1385.02 C1220.15,1383.02 1220.18,1381.02 1220.20,1379.02 C1220.22,1377.02 1220.24,1375.02 1220.26,1373.02 C1220.28,1371.02 1220.30,1369.02 1220.32,1367.02 C1220.34,1365.02 1220.37,1363.02 1220.39,1361.02 C1220.41,1359.02 1220.43,1357.02 1220.45,1355.02 C1220.48,1353.02 1220.50,1351.02 1220.52,1349.02 C1220.55,1347.02 1220.57,1345.02 1220.59,1343.02 C1220.62,1341.03 1220.64,1339.03 1220.67,1337.03 C1220.69,1335.03 1220.72,1333.03 1220.74,1331.03 C1220.77,1329.03 1220.79,1327.03 1220.82,1325.03 C1220.85,1323.03 1220.87,1321.03 1220.90,1319.03 C1220.93,1317.03 1220.95,1315.03 1220.98,1313.03 C1221.01,1311.03 1221.04,1309.03 1221.06,1307.03 C1221.09,1305.03 1221.12,1303.03 1221.15,1301.03 C1221.18,1299.03 1221.21,1297.03 1221.24,1295.03 C1221.27,1293.03 1221.30,1291.03 1221.33,1289.03 C1221.36,1287.03 1221.39,1285.03 1221.43,1283.03 C1221.46,1281.03 1221.49,1279.03 1221.52,1277.03 C1221.56,1275.04 1221.59,1273.04 1221.62,1271.04 C1221.66,1269.04 1221.69,1267.04 1221.73,1265.04 C1221.76,1263.04 1221.80,1261.04 1221.84,1259.04 C1221.87,1257.04 1221.91,1255.04 1221.95,1253.04 C1221.99,1251.04 1222.02,1249.04 1222.06,1247.04 C1222.10,1245.04 1222.14,1243.04 1222.18,1241.04 C1222.22,1239.04 1222.26,1237.04 1222.31,1235.04 C1222.35,1233.04 1222.39,1231.05 1222.43,1229.05 C1222.48,1227.05 1222.52,1225.05 1222.57,1223.05 C1222.61,1221.05 1222.66,1219.05 1222.70,1217.05 C1222.75,1215.05 1222.80,1213.05 1222.85,1211.05 C1222.90,1209.05 1222.95,1207.05 1223.00,1205.05 C1223.05,1203.05 1223.10,1201.06 1223.15,1199.06 C1223.20,1197.06 1223.26,1195.06 1223.31,1193.06 C1223.37,1191.06 1223.42,1189.06 1223.48,1187.06 C1223.54,1185.06 1223.60,1183.06 1223.65,1181.06 C1223.71,1179.07 1223.77,1177.07 1223.84,1175.07 C1223.90,1173.07 1223.96,1171.07 1224.03,1169.07 C1224.09,1167.07 1224.16,1165.07 1224.23,1163.07 C1224.29,1161.08 1224.36,1159.08 1224.44,1157.08 C1224.51,1155.08 1224.58,1153.08 1224.65,1151.08 C1224.73,1149.08 1224.80,1147.09 1224.88,1145.09 C1224.96,1143.09 1225.04,1141.09 1225.12,1139.09 C1225.21,1137.09 1225.29,1135.10 1225.38,1133.10 C1225.46,1131.10 1225.55,1129.10 1225.64,1127.10 C1225.73,1125.11 1225.83,1123.11 1225.92,1121.11 C1226.02,1119.11 1226.12,1117.12 1226.22,1115.12 C1226.32,1113.12 1226.43,1111.12 1226.53,1109.13 C1226.64,1107.13 1226.75,1105.13 1226.87,1103.14 C1226.98,1101.14 1227.10,1099.14 1227.22,1097.15 C1227.34,1095.15 1227.46,1093.16 1227.59,1091.16 C1227.72,1089.16 1227.85,1087.17 1227.99,1085.17 C1228.13,1083.18 1228.27,1081.18 1228.41,1079.19 C1228.56,1077.19 1228.71,1075.20 1228.87,1073.21 C1229.02,1071.21 1229.18,1069.22 1229.35,1067.23 C1229.52,1065.23 1229.69,1063.24 1229.87,1061.25 C1230.05,1059.26 1230.24,1057.27 1230.43,1055.28 C1230.63,1053.28 1230.83,1051.30 1231.04,1049.31 C1231.25,1047.32 1231.47,1045.33 1231.69,1043.34 C1231.92,1041.36 1232.16,1039.37 1232.41,1037.39 C1232.65,1035.40 1232.91,1033.42 1233.18,1031.44 C1233.45,1029.45 1233.73,1027.47 1234.03,1025.50 C1234.32,1023.52 1234.63,1021.54 1234.96,1019.57 C1235.28,1017.60 1235.62,1015.62 1235.98,1013.66 C1236.34,1011.69 1236.71,1009.72 1237.11,1007.77 C1237.51,1005.81 1237.92,1003.85 1238.37,1001.90 C1238.81,999.95 1239.27,998.00 1239.77,996.06 C1240.26,994.13 1240.78,992.19 1241.34,990.27 C1241.89,988.35 1242.48,986.44 1243.11,984.54 C1243.74,982.64 1244.39,980.75 1245.10,978.88 C1245.81,977.02 1246.56,975.16 1247.36,973.33 C1248.17,971.50 1249.01,969.68 1249.92,967.90 C1250.83,966.12 1251.80,964.37 1252.82,962.65 C1253.85,960.94 1254.94,959.25 1256.09,957.62 C1257.25,955.99 1258.47,954.40 1259.76,952.88 C1261.04,951.35 1262.40,949.87 1263.81,948.45 C1265.22,947.04 1266.70,945.69 1268.23,944.40 C1269.76,943.12 1271.35,941.90 1272.98,940.74 C1274.61,939.59 1276.30,938.50 1278.01,937.47 C1279.72,936.44 1281.48,935.48 1283.26,934.57 C1285.04,933.66 1286.86,932.82 1288.69,932.01 C1290.52,931.21 1292.38,930.46 1294.25,929.76 C1296.12,929.05 1298.01,928.39 1299.90,927.76 C1301.80,927.14 1303.72,926.55 1305.64,926.00 C1307.56,925.44 1309.49,924.93 1311.43,924.43 C1313.37,923.94 1315.31,923.47 1317.26,923.03 C1319.21,922.59 1321.17,922.17 1323.13,921.77 C1325.09,921.38 1327.05,921.00 1329.02,920.64 C1330.99,920.29 1332.96,919.95 1334.93,919.62 C1336.91,919.30 1338.88,918.99 1340.86,918.69 C1342.84,918.40 1344.82,918.12 1346.80,917.85 C1348.78,917.58 1350.77,917.32 1352.75,917.07 C1354.73,916.82 1356.72,916.59 1358.71,916.36 C1360.69,916.13 1362.68,915.92 1364.67,915.71 C1366.66,915.50 1368.65,915.30 1370.64,915.10 C1372.63,914.91 1374.62,914.72 1376.61,914.54 C1378.61,914.36 1380.60,914.19 1382.59,914.02 C1384.58,913.85 1386.58,913.69 1388.57,913.53 C1390.56,913.38 1392.56,913.23 1394.55,913.08 C1396.55,912.93 1398.54,912.79 1400.54,912.66 C1402.53,912.52 1404.53,912.39 1406.52,912.26 C1408.52,912.13 1410.52,912.01 1412.51,911.89 C1414.51,911.76 1416.51,911.65 1418.50,911.53 C1420.50,911.42 1422.50,911.31 1424.49,911.20 C1426.49,911.09 1428.49,910.99 1430.48,910.89 C1432.48,910.79 1434.48,910.69 1436.48,910.59 C1438.47,910.50 1440.47,910.40 1442.47,910.31 C1444.47,910.22 1446.47,910.13 1448.46,910.05 C1450.46,909.96 1452.46,909.87 1454.46,909.79 C1456.46,909.71 1458.45,909.63 1460.45,909.55 C1462.45,909.47 1464.45,909.40 1466.45,909.32 C1468.45,909.25 1470.44,909.18 1472.44,909.10 C1474.44,909.03 1476.44,908.96 1478.44,908.90 C1480.44,908.83 1482.44,908.76 1484.44,908.70 C1486.43,908.63 1488.43,908.57 1490.43,908.51 C1492.43,908.44 1494.43,908.38 1496.43,908.32 C1498.43,908.26 1500.43,908.21 1502.43,908.15 C1504.43,908.09 1506.42,908.04 1508.42,907.98 C1510.42,907.93 1512.42,907.87 1514.42,907.82 C1516.42,907.77 1518.42,907.72 1520.42,907.67 C1522.42,907.62 1524.42,907.57 1526.42,907.52 C1528.42,907.47 1530.42,907.42 1532.41,907.37 C1534.41,907.33 1536.41,907.28 1538.41,907.24 C1540.41,907.19 1542.41,907.15 1544.41,907.10 C1546.41,907.06 1548.41,907.02 1550.41,906.98 C1552.41,906.93 1554.41,906.89 1556.41,906.85 C1558.41,906.81 1560.41,906.77 1562.41,906.73 C1564.41,906.69 1566.41,906.66 1568.41,906.62 C1570.40,906.58 1572.40,906.54 1574.40,906.51 C1576.40,906.47 1578.40,906.43 1580.40,906.40 C1582.40,906.36 1584.40,906.33 1586.40,906.29 C1588.40,906.26 1591.40,906.21 1592.40,906.19" fill="none" stroke="#000" stroke-width="3.4" stroke-linejoin="round" stroke-linecap="round"/>
<path d="M1218.4,1655.0 L1592.4,1410.8" fill="none" stroke="#000" stroke-width="3.6" stroke-linecap="round"/>
<path d="M1218.4,1655.0 L1218.7,1643.0 M1219.0,1632.0 L1219.2,1620.0 M1219.5,1609.0 L1219.8,1597.0 M1223.1,1462.5 L1223.6,1450.5 M1224.1,1439.5 L1224.6,1427.5 M1225.1,1416.5 L1225.6,1404.5 M1227.8,1354.7 L1228.6,1342.7 M1229.3,1331.7 L1230.1,1319.7 M1232.4,1285.9 L1233.6,1273.9 M1237.1,1238.0 L1238.7,1226.0 M1241.8,1202.9 L1243.9,1190.9 M1246.5,1176.0 L1249.1,1164.0 M1251.1,1154.7 L1254.4,1142.7 M1255.8,1137.5 L1259.3,1126.7 M1260.5,1123.2 L1263.8,1114.8 M1265.2,1111.3 L1268.2,1104.6 M1269.8,1101.1 L1272.6,1095.8 M1274.5,1092.3 L1277.0,1088.1 M1279.2,1084.6 L1281.4,1081.4 M1283.9,1077.9 L1288.5,1071.9 L1293.2,1066.5 L1297.9,1061.8 L1302.6,1057.4 L1307.2,1053.5 L1311.9,1050.0 L1316.6,1046.7 L1321.2,1043.7 L1325.9,1040.9 L1330.6,1038.4 L1335.3,1036.0 L1340.0,1033.8 L1344.6,1031.7 L1349.3,1029.8 L1354.0,1028.0 L1358.7,1026.3 L1363.3,1024.7 L1368.0,1023.2 L1372.7,1021.8 L1377.4,1020.5 L1382.0,1019.2 L1386.7,1018.0 L1391.4,1016.9 L1396.1,1015.8 L1400.7,1014.8 L1405.4,1013.8 L1410.1,1012.9 L1414.8,1012.0 L1419.4,1011.1 L1424.1,1010.3 L1428.8,1009.5 L1433.5,1008.8 L1438.1,1008.0 L1442.8,1007.4 L1447.5,1006.7 L1452.2,1006.0 L1456.8,1005.4 L1461.5,1004.8 L1466.2,1004.3 L1470.9,1003.7 L1475.5,1003.2 L1480.2,1002.7 L1484.9,1002.2 L1489.6,1001.7 L1494.2,1001.2 L1498.9,1000.8 L1503.6,1000.3 L1508.2,999.9 L1512.9,999.5 L1517.6,999.1 L1522.3,998.7 L1527.0,998.3 L1531.6,998.0 L1536.3,997.6 L1541.0,997.3 L1545.7,996.9 L1550.3,996.6 L1555.0,996.3 L1559.7,996.0 L1564.4,995.7 L1569.0,995.4 L1573.7,995.1 L1578.4,994.8 L1583.1,994.6 L1587.7,994.3 L1592.4,994.1" fill="none" stroke="#000" stroke-width="3.4" stroke-linecap="butt"/>
<path d="M1218.4,1655.0 L1218.5,1654.4 M1220.2,1640.7 L1220.3,1640.1 M1223.1,1618.4 L1223.2,1617.8 M1225.2,1604.1 L1225.3,1603.5 M1227.8,1587.0 L1227.9,1586.4 M1230.2,1572.7 L1230.3,1572.1 M1232.4,1559.8 L1232.5,1559.2 M1235.2,1545.5 L1235.3,1544.9 M1237.1,1536.0 L1237.2,1535.4 M1240.3,1521.7 L1240.4,1521.1 M1241.8,1514.9 L1241.9,1514.3 M1245.3,1500.6 L1245.5,1500.0 M1246.5,1496.2 L1246.6,1495.6 M1251.1,1479.5 L1251.3,1478.9 M1255.8,1464.4 L1256.0,1463.8 M1260.5,1450.7 L1260.7,1450.1 M1265.2,1438.3 L1265.4,1437.7 M1269.8,1427.0 L1270.1,1426.4 M1274.5,1416.6 L1274.8,1416.0 M1279.2,1407.0 L1279.5,1406.4 M1283.9,1398.2 L1284.2,1397.6 M1288.5,1390.0 L1288.9,1389.4 M1293.2,1382.4 L1293.6,1381.8 M1297.9,1375.3 L1298.3,1374.7 M1302.6,1368.7 L1303.0,1368.1 M1307.2,1362.5 L1307.7,1361.9 M1311.9,1356.7 L1312.4,1356.1 M1316.6,1351.3 L1317.1,1350.7 M1321.2,1346.2 L1321.8,1345.6 M1325.9,1341.3 L1326.5,1340.7 M1330.6,1336.8 L1331.2,1336.2 M1335.3,1332.4 L1335.9,1331.9 M1340.0,1328.4 L1340.5,1327.9 M1344.6,1324.5 L1345.2,1324.0 M1349.3,1320.8 L1349.9,1320.3 M1354.0,1317.3 L1354.6,1316.8 M1358.7,1313.9 L1359.2,1313.5 M1363.3,1310.7 L1363.9,1310.4 M1368.0,1307.7 L1368.6,1307.3 M1372.7,1304.8 L1373.3,1304.4 M1377.4,1302.0 L1378.0,1301.7 M1382.0,1299.3 L1382.6,1299.0 M1386.7,1296.8 L1387.3,1296.5 M1391.4,1294.3 L1392.0,1294.0 M1396.1,1292.0 L1396.7,1291.7 M1400.7,1289.7 L1401.3,1289.5 M1405.4,1287.6 L1406.0,1287.3 M1410.1,1285.5 L1410.7,1285.2 M1414.8,1283.5 L1415.3,1283.2 M1419.4,1281.5 L1420.0,1281.3 M1424.1,1279.7 L1424.7,1279.4 M1428.8,1277.9 L1429.4,1277.6 M1433.5,1276.1 L1434.0,1275.9 M1438.1,1274.4 L1438.7,1274.2 M1442.8,1272.8 L1443.4,1272.6 M1447.5,1271.2 L1448.1,1271.0 M1452.2,1269.7 L1452.8,1269.5 M1456.8,1268.2 L1457.4,1268.0 M1461.5,1266.8 L1462.1,1266.6 M1466.2,1265.4 L1466.8,1265.2 M1470.9,1264.1 L1471.5,1263.9 M1475.5,1262.8 L1476.1,1262.6 M1480.2,1261.5 L1480.8,1261.3 M1484.9,1260.3 L1485.5,1260.1 M1489.6,1259.1 L1490.2,1258.9 M1494.2,1257.9 L1494.8,1257.8 M1498.9,1256.8 L1499.5,1256.6 M1503.6,1255.7 L1504.2,1255.6 M1508.2,1254.6 L1508.8,1254.5 M1512.9,1253.6 L1513.5,1253.5 M1517.6,1252.6 L1518.2,1252.4 M1522.3,1251.6 L1522.9,1251.5 M1527.0,1250.6 L1527.5,1250.5 M1531.6,1249.7 L1532.2,1249.6 M1536.3,1248.8 L1536.9,1248.7 M1541.0,1247.9 L1541.6,1247.8 M1545.7,1247.0 L1546.2,1246.9 M1550.3,1246.2 L1550.9,1246.1 M1555.0,1245.3 L1555.6,1245.2 M1559.7,1244.5 L1560.3,1244.4 M1564.4,1243.8 L1565.0,1243.7 M1569.0,1243.0 L1569.6,1242.9 M1573.7,1242.2 L1574.3,1242.1 M1578.4,1241.5 L1579.0,1241.4 M1583.1,1240.8 L1583.7,1240.7 M1587.7,1240.1 L1588.3,1240.0" fill="none" stroke="#000" stroke-width="3.4" stroke-linecap="square"/>
<path d="M1218.4,1655.0 L1228.9,1649.3 M1238.4,1644.1 L1248.9,1638.4 M1258.4,1633.2 L1268.9,1627.5 M1278.4,1622.4 L1288.9,1616.6 M1298.4,1611.5 L1308.9,1605.8 M1318.4,1600.6 L1328.9,1594.9 M1338.4,1589.7 L1348.9,1584.0 M1358.4,1578.8 L1368.9,1573.1 M1378.4,1567.9 L1388.9,1562.2 M1398.4,1557.1 L1408.9,1551.3 M1418.4,1546.2 L1428.9,1540.5 M1438.4,1535.3 L1448.9,1529.6 M1458.4,1524.4 L1468.9,1518.7 M1478.4,1513.5 L1488.9,1507.8 M1498.4,1502.7 L1508.9,1496.9 M1518.4,1491.8 L1528.9,1486.1 M1538.4,1480.9 L1548.9,1475.2 M1558.4,1470.0 L1568.9,1464.3 M1578.4,1459.1 L1588.9,1453.4" fill="none" stroke="#000" stroke-width="3.4" stroke-linecap="butt"/>
<path d="M1218.4,1655.0 L1219.0,1654.7 M1230.6,1649.1 L1231.2,1648.8 M1242.8,1643.1 L1243.4,1642.8 M1255.0,1637.2 L1255.6,1636.9 M1267.2,1631.2 L1267.8,1630.9 M1279.4,1625.3 L1280.0,1625.0 M1291.6,1619.4 L1292.2,1619.1 M1303.8,1613.4 L1304.4,1613.1 M1316.0,1607.5 L1316.6,1607.2 M1328.2,1601.5 L1328.8,1601.2 M1340.4,1595.6 L1341.0,1595.3 M1352.6,1589.6 L1353.2,1589.4 M1364.8,1583.7 L1365.4,1583.4 M1377.0,1577.8 L1377.6,1577.5 M1389.2,1571.8 L1389.8,1571.5 M1401.4,1565.9 L1402.0,1565.6 M1413.6,1559.9 L1414.2,1559.6 M1425.8,1554.0 L1426.4,1553.7 M1438.0,1548.1 L1438.6,1547.8 M1450.2,1542.1 L1450.8,1541.8 M1462.4,1536.2 L1463.0,1535.9 M1474.6,1530.2 L1475.2,1529.9 M1486.8,1524.3 L1487.4,1524.0 M1499.0,1518.3 L1499.6,1518.1 M1511.2,1512.4 L1511.8,1512.1 M1523.4,1506.5 L1524.0,1506.2 M1535.6,1500.5 L1536.2,1500.2 M1547.8,1494.6 L1548.4,1494.3 M1560.0,1488.6 L1560.6,1488.3 M1572.2,1482.7 L1572.8,1482.4 M1584.4,1476.8 L1585.0,1476.5" fill="none" stroke="#000" stroke-width="3.4" stroke-linecap="square"/>
</svg>
</body></html>
